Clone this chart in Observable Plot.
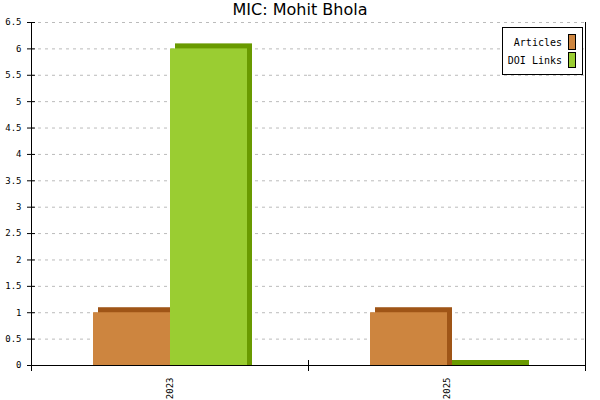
<!DOCTYPE html>
<html>
<head>
<meta charset="utf-8">
<script src="https://cdn.jsdelivr.net/npm/d3@7"></script>
<script src="https://cdn.jsdelivr.net/npm/@observablehq/plot@0.6"></script>
<style>
  html, body { margin: 0; padding: 0; background: #fff; }
  #wrap { position: relative; width: 600px; height: 400px; }
  #title { position: absolute; left: 0; top: 0; width: 600px; height: 20px; line-height: 20px; text-align: center; font-family: "DejaVu Sans", sans-serif; font-size: 16px; color: #000; z-index: 2; }
  #chart { position: absolute; left: 0; top: 0; }
  #legend { position: absolute; left: 502px; top: 27px; width: 79px; height: 46px; border: 1px solid #000; background: #fff; font-family: "DejaVu Sans Mono", monospace; font-size: 10px; z-index: 2; }
  .row { position: absolute; right: 6px; display: flex; align-items: center; }
  .sw { width: 6px; height: 14px; border: 1px solid #000; margin-left: 6px; }
</style>
</head>
<body>
<div id="wrap">
  <div id="chart"></div>
  <div id="title">MIC: Mohit Bhola</div>
  <div id="legend"></div>
</div>
<script>
const years = ["2023", "2025"];
const series = ["Articles", "DOI Links"];
const articles = [1, 1];
const doiLinks = [6, 0];
const frontColors = ["#CD853F", "#9ACD32"];
const sideColors = ["#9F5517", "#699A00"];
const yTicks = [0, 0.5, 1, 1.5, 2, 2.5, 3, 3.5, 4, 4.5, 5, 5.5, 6, 6.5];

const values = [articles, doiLinks];
const data = [];
years.forEach((yr, i) => series.forEach((s, j) => data.push({year: yr, series: s, value: values[j][i], side: sideColors[j]})));

const mono = "DejaVu Sans Mono, monospace";

const chart = Plot.plot({
  width: 600,
  height: 400,
  marginTop: 22,
  marginBottom: 35,
  marginLeft: 30,
  marginRight: 15,
  style: {fontFamily: mono, fontSize: "9px", background: "#fff"},
  fx: {domain: years, padding: 0, label: null},
  x: {domain: series, paddingInner: 0, paddingOuter: 0.78, axis: null},
  y: {domain: [0, 6.5], label: null, axis: null},
  color: {domain: series, range: frontColors},
  marks: [
    Plot.gridY(yTicks, {stroke: "#bbb", strokeOpacity: 1, strokeDasharray: "3,4"}),
    Plot.barY(data, {fx: "year", x: "series", y: "value", fill: "side", dx: 5, insetTop: -5, insetLeft: 0, insetRight: 0}),
    Plot.barY(data, {fx: "year", x: "series", y: "value", fill: "series", insetLeft: 0, insetRight: 0}),
    Plot.ruleY([0], {stroke: "#000"}),
    Plot.frame({anchor: "left", facetAnchor: "left", stroke: "#000", insetBottom: -5}),
    Plot.frame({anchor: "right", facetAnchor: "right", stroke: "#000", insetBottom: -5}),
    Plot.frame({anchor: "left", facetAnchor: "right", stroke: "#000", insetTop: 338, insetBottom: -5}),
    Plot.axisY({ticks: yTicks, tickFormat: d => String(d), tickSize: 8, dx: 4, tickPadding: 6, fontSize: 9, fontFamily: mono, stroke: "#000", label: null}),
    Plot.axisFx({anchor: "bottom", tickRotate: -90, tickSize: 0, tickPadding: 12, fontSize: 9, fontFamily: mono, label: null})
  ]
});
document.getElementById("chart").appendChild(chart);

const legend = document.getElementById("legend");
series.forEach((s, j) => {
  const row = document.createElement("div");
  row.className = "row";
  row.style.top = (6 + j * 18) + "px";
  const t = document.createElement("span");
  t.textContent = s;
  const sw = document.createElement("span");
  sw.className = "sw";
  sw.style.background = frontColors[j];
  row.appendChild(t);
  row.appendChild(sw);
  legend.appendChild(row);
});
</script>
</body>
</html>
